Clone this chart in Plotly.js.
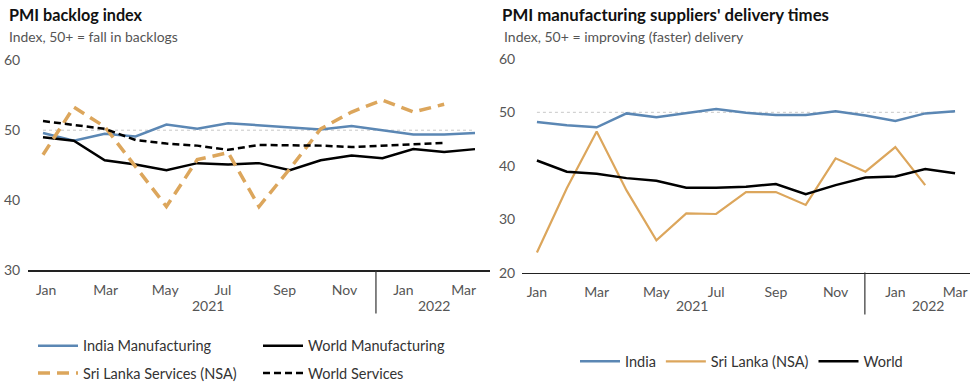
<!DOCTYPE html>
<html>
<head>
<meta charset="utf-8">
<script src="https://cdn.plot.ly/plotly-3.0.1.min.js"></script>
<style>html,body{margin:0;padding:0;background:#fff;}#chart{width:970px;height:389px;}</style>
</head>
<body>
<div id="chart"></div>
<script>
// Months Jan 2021 .. Mar 2022 (index positions 0..14)
const months = ['Jan 2021','Feb 2021','Mar 2021','Apr 2021','May 2021','Jun 2021','Jul 2021','Aug 2021','Sep 2021','Oct 2021','Nov 2021','Dec 2021','Jan 2022','Feb 2022','Mar 2022'];

// Left chart: PMI backlog index
const indiaMfgBacklog   = [49.6,48.5,49.5,49.1,50.8,50.2,51.0,50.7,50.5,50.1,50.6,50.0,49.4,49.4,49.6];
const worldMfgBacklog   = [49.0,48.5,45.7,45.1,44.3,45.3,45.1,45.3,44.3,45.7,46.4,46.0,47.3,46.9,47.3];
const sriLankaSvcBacklog= [46.5,53.3,50.5,44.8,39.1,45.8,46.8,39.1,44.5,50.2,52.6,54.3,52.6,53.7];
const worldSvcBacklog   = [51.3,50.8,50.2,48.6,48.1,47.8,47.2,47.9,47.9,47.8,47.6,47.8,48.0,48.2];

// Right chart: PMI manufacturing suppliers' delivery times
const indiaDelivery    = [48.2,47.6,47.2,49.8,49.1,49.9,50.6,49.9,49.5,49.5,50.2,49.4,48.4,49.8,50.2];
const sriLankaDelivery = [23.8,35.8,46.4,35.4,26.1,31.1,31.0,35.1,35.1,32.7,41.4,38.9,43.5,36.4];
const worldDelivery    = [41.0,38.9,38.5,37.7,37.2,35.9,35.9,36.1,36.6,34.7,36.4,37.8,38.0,39.4,38.6];

// Tick labels
const tickLabels = ['Jan','Mar','May','Jul','Sep','Nov','Jan','Mar'];
const leftTickPos  = [0.1,2.03,3.96,5.83,7.83,9.77,11.68,13.63];
const rightTickPos = [0,2,4,6,8,10,12,14];
const leftYTicks  = [30,40,50,60];
const rightYTicks = [20,30,40,50,60];
const years = ['2021','2022'];

const idx = n => Array.from({length:n},(_,i)=>i);

const BLUE = '#5b87b4', ORANGE = '#dca65c', BLACK = '#000000';
const FONT = 'Lato, "Source Sans Pro", "Noto Sans", sans-serif';

const traces = [
  {x: idx(indiaMfgBacklog.length), y: indiaMfgBacklog, name:'India Manufacturing', type:'scatter', mode:'lines',
   line:{color:BLUE,width:2.5}, xaxis:'x', yaxis:'y', legend:'legend'},
  {x: idx(worldMfgBacklog.length), y: worldMfgBacklog, name:'World Manufacturing', type:'scatter', mode:'lines',
   line:{color:BLACK,width:2.5}, xaxis:'x', yaxis:'y', legend:'legend'},
  {x: idx(sriLankaSvcBacklog.length), y: sriLankaSvcBacklog, name:'Sri Lanka Services (NSA)', type:'scatter', mode:'lines',
   line:{color:ORANGE,width:3.5,dash:'12px,7px'}, xaxis:'x', yaxis:'y', legend:'legend3'},
  {x: idx(worldSvcBacklog.length), y: worldSvcBacklog, name:'World Services', type:'scatter', mode:'lines',
   line:{color:BLACK,width:2.5,dash:'7px,4px'}, xaxis:'x', yaxis:'y', legend:'legend3'},
  {x: idx(indiaDelivery.length), y: indiaDelivery, name:'India', type:'scatter', mode:'lines',
   line:{color:BLUE,width:2.5}, xaxis:'x2', yaxis:'y2', legend:'legend2'},
  {x: idx(sriLankaDelivery.length), y: sriLankaDelivery, name:'Sri Lanka (NSA)', type:'scatter', mode:'lines',
   line:{color:ORANGE,width:2.2}, xaxis:'x2', yaxis:'y2', legend:'legend2'},
  {x: idx(worldDelivery.length), y: worldDelivery, name:'World', type:'scatter', mode:'lines',
   line:{color:BLACK,width:2.5}, xaxis:'x2', yaxis:'y2', legend:'legend2'}
];

const W = 970, H = 389;
const py = p => 1 - p/H;

const axisCommon = {showgrid:false, zeroline:false, fixedrange:true,
  tickfont:{family:FONT,size:14,color:'#555'}};

const legendCommon = {orientation:'h', xanchor:'left', yanchor:'middle', bgcolor:'rgba(0,0,0,0)',
  font:{family:FONT,size:14.5,color:'#333'}, itemwidth:40, tracegroupgap:0};

const layout = {
  width:W, height:H, margin:{l:0,r:0,t:0,b:0},
  paper_bgcolor:'#fff', plot_bgcolor:'rgba(0,0,0,0)',
  font:{family:FONT},
  showlegend:true,
  xaxis:Object.assign({}, axisCommon, {domain:[28/W,490/W], range:[-0.486,14.486], anchor:'y',
    tickmode:'array', tickvals:leftTickPos, ticktext:tickLabels, showline:true, linecolor:'#222', linewidth:1.3,
    ticks:'outside', ticklen:7, tickcolor:'rgba(0,0,0,0)'}),
  yaxis:Object.assign({}, axisCommon, {domain:[py(276.7),py(61.6)], range:[30,60], anchor:'x',
    tickmode:'array', tickvals:leftYTicks, ticks:'outside', ticklen:4, tickcolor:'rgba(0,0,0,0)', showline:false}),
  xaxis2:Object.assign({}, axisCommon, {domain:[522/W,1], range:[-0.5,14.5], anchor:'y2',
    tickmode:'array', tickvals:rightTickPos, ticktext:tickLabels, showline:true, linecolor:'#222', linewidth:1.3,
    ticks:'outside', ticklen:6, tickcolor:'rgba(0,0,0,0)'}),
  yaxis2:Object.assign({}, axisCommon, {domain:[py(279.3),py(60.2)], range:[20,60], anchor:'x2',
    tickmode:'array', tickvals:rightYTicks, ticks:'outside', ticklen:3, tickcolor:'rgba(0,0,0,0)', showline:false}),
  legend:Object.assign({}, legendCommon, {x:33/W, y:py(354), entrywidth:170, entrywidthmode:'pixels'}),
  legend3:Object.assign({}, legendCommon, {x:33/W, y:py(382), entrywidth:170, entrywidthmode:'pixels'}),
  legend2:Object.assign({}, legendCommon, {x:575/W, y:py(370)}),
  shapes:[
    {type:'line', xref:'x', yref:'y', x0:0, x1:14, y0:50, y1:50, line:{color:'#c8c8c8',width:1,dash:'dot'}, layer:'below'},
    {type:'line', xref:'x2', yref:'y2', x0:0, x1:14, y0:50, y1:50, line:{color:'#c8c8c8',width:1,dash:'dot'}, layer:'below'},
    {type:'line', xref:'x', yref:'paper', x0:10.79, x1:10.79, y0:py(277), y1:py(321), line:{color:'#333',width:1.2}},
    {type:'line', xref:'x2', yref:'paper', x0:10.98, x1:10.98, y0:py(279), y1:py(322), line:{color:'#333',width:1.2}}
  ],
  annotations:[
    {xref:'paper', yref:'paper', x:7/W, y:py(15), xanchor:'left', yanchor:'middle', showarrow:false,
     text:'<b>PMI backlog index</b>', font:{family:FONT,size:16.2,color:'#111'}},
    {xref:'paper', yref:'paper', x:7/W, y:py(37), xanchor:'left', yanchor:'middle', showarrow:false,
     text:'Index, 50+ = fall in backlogs', font:{family:FONT,size:13.9,color:'#555'}},
    {xref:'paper', yref:'paper', x:500/W, y:py(15), xanchor:'left', yanchor:'middle', showarrow:false,
     text:"<b>PMI manufacturing suppliers' delivery times</b>", font:{family:FONT,size:16.8,color:'#111'}},
    {xref:'paper', yref:'paper', x:502/W, y:py(37), xanchor:'left', yanchor:'middle', showarrow:false,
     text:'Index, 50+ = improving (faster) delivery', font:{family:FONT,size:14,color:'#555'}},
    {xref:'x', yref:'paper', x:5.35, y:py(313), xanchor:'center', yanchor:'middle', showarrow:false,
     text:years[0], font:{family:FONT,size:14,color:'#555'}},
    {xref:'x', yref:'paper', x:12.67, y:py(313), xanchor:'center', yanchor:'middle', showarrow:false,
     text:years[1], font:{family:FONT,size:14,color:'#555'}},
    {xref:'x2', yref:'paper', x:5.19, y:py(313), xanchor:'center', yanchor:'middle', showarrow:false,
     text:years[0], font:{family:FONT,size:14,color:'#555'}},
    {xref:'x2', yref:'paper', x:13.09, y:py(313), xanchor:'center', yanchor:'middle', showarrow:false,
     text:years[1], font:{family:FONT,size:14,color:'#555'}}
  ]
};

Plotly.newPlot('chart', traces, layout, {displayModeBar:false, staticPlot:true});
</script>
</body>
</html>
